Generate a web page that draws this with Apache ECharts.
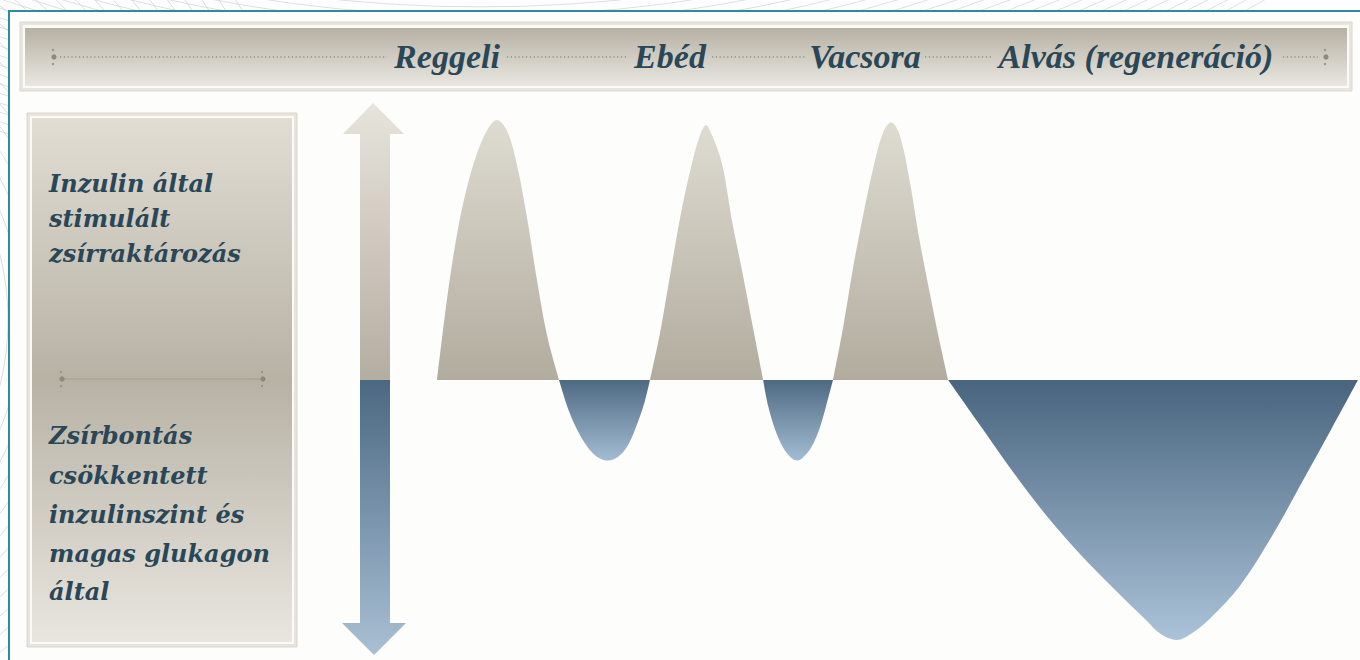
<!DOCTYPE html>
<html><head><meta charset="utf-8">
<script src="https://cdn.jsdelivr.net/npm/echarts@6/dist/echarts.min.js"></script>
<style>html,body{margin:0;padding:0;background:#fff;}#c{width:1360px;height:660px;}</style>
</head><body><div id="c"></div>
<script>
// ---- text content ----
const headerLabels = ['Reggeli', 'Ebéd', 'Vacsora', 'Alvás (regeneráció)'];
const upperText = ['Inzulin által', 'stimulált', 'zsírraktározás'];
const lowerText = ['Zsírbontás', 'csökkentett', 'inzulinszint és', 'magas glukagon', 'által'];

// ---- data: [time of day (h), relative insulin effect (-100 .. 100)] ----
const breakfastPeak = [[6.00,0],[6.26,31],[6.52,56],[6.78,74],[7.04,87],[7.30,96],[7.56,100],[7.82,96],[8.08,83],[8.35,62],[8.61,38],[8.87,17],[9.18,0]];
const morningDip    = [[9.18,0],[9.44,-12],[9.70,-20.5],[9.96,-26.5],[10.22,-30],[10.46,-31],[10.72,-29.5],[10.98,-25],[11.24,-16],[11.42,-8],[11.55,0]];
const lunchPeak     = [[11.55,0],[11.81,18],[12.07,40],[12.33,62],[12.59,80],[12.85,94],[13.01,98],[13.17,94],[13.43,83],[13.69,61],[13.95,42],[14.21,22],[14.50,0]];
const afternoonDip  = [[14.50,0],[14.63,-10],[14.81,-19],[15.02,-26],[15.20,-29.5],[15.38,-31],[15.56,-29.5],[15.75,-26],[15.96,-19],[16.14,-10],[16.32,0]];
const dinnerPeak    = [[16.32,0],[16.58,20],[16.84,43],[17.10,63],[17.36,81],[17.62,95],[17.83,99],[18.04,95],[18.30,78],[18.56,55],[18.82,35],[19.08,16],[19.32,0]];
const sleepDip      = [[19.32,0],[20.18,-18],[21.04,-36],[21.90,-52.5],[22.76,-67],[23.62,-80],[24.48,-92.4],[24.87,-97.8],[25.28,-100],[25.65,-97.6],[26.09,-92.5],[26.93,-79],[27.76,-60],[28.59,-38],[29.30,-19],[30.00,0]];

const BEIGE = ['#dedbd1', '#b2ac9e'];
const BLUE_SMALL = ['#4e6a83', '#a3bcd2'];
const BLUE_BIG = ['#48647e', '#abc3d8'];
const TAUPE = '#b4aea1';

function grad(c0, c1) {
  return new echarts.graphic.LinearGradient(0, 0, 0, 1, [{offset:0,color:c0},{offset:1,color:c1}]);
}
function area(name, data, cols) {
  return {
    name, type: 'line', data, smooth: 0.35,
    symbol: 'none', silent: true, animation: false,
    lineStyle: { width: 0, color: cols[1] },
    areaStyle: { color: grad(cols[0], cols[1]), opacity: 1 }
  };
}

// ---- decorations ----
const TEXT_COLOR = '#2a4758';
const graphics = [];
// faint guilloche-like background lines (visible outside the frame)
for (let i = 0; i < 26; i++) {
  graphics.push({ type: 'circle', silent: true, z: -20,
    shape: { cx: -260, cy: 320, r: 240 + i * 14 },
    style: { fill: 'none', stroke: '#d2d2d2', lineWidth: 0.8 } });
  graphics.push({ type: 'circle', silent: true, z: -20,
    shape: { cx: 480, cy: -1400, r: 1380 + i * 9 },
    style: { fill: 'none', stroke: '#d6d6d6', lineWidth: 0.8 } });
}
// main frame
graphics.push({ type: 'rect', silent: true, z: -10, shape: { x: 9, y: 11, width: 1400, height: 700 },
  style: { fill: '#fdfdfb', stroke: '#2a8c9c', lineWidth: 2 } });

// header bar
graphics.push({ type: 'rect', silent: true, z: -5, shape: { x: 20, y: 22, width: 1332, height: 69 },
  style: { fill: '#e8e5de', stroke: '#dcd8cf', lineWidth: 1 } });
graphics.push({ type: 'rect', silent: true, z: -5, shape: { x: 23, y: 25, width: 1326, height: 63 },
  style: { fill: '#fbfaf7' } });
graphics.push({ type: 'rect', silent: true, z: -5, shape: { x: 25, y: 28, width: 1322, height: 58 },
  style: { fill: grad('#b7b1a4', '#e9e7e0') } });

const headerCenters = [447, 670, 865, 1136];
headerLabels.forEach((t, i) => graphics.push({ type: 'text', silent: true, z: 5,
  style: { text: t, x: headerCenters[i], y: 56, align: 'center', verticalAlign: 'middle',
    font: 'italic bold 34px "Liberation Serif"', fill: TEXT_COLOR } }));
const leaders = [[60, 387], [507, 628], [712, 806], [925, 991], [1283, 1318]];
leaders.forEach(s => graphics.push({ type: 'line', silent: true, z: 4,
  shape: { x1: s[0], y1: 57, x2: s[1], y2: 57 },
  style: { stroke: '#948e80', lineWidth: 1.4, lineDash: [1.2, 2.6] } }));
function ornament(x, y) {
  graphics.push({ type: 'circle', silent: true, z: 4, shape: { cx: x, cy: y, r: 2.6 }, style: { fill: '#8f897b' } });
  graphics.push({ type: 'circle', silent: true, z: 4, shape: { cx: x - 1, cy: y - 7, r: 1.2 }, style: { fill: '#9a9486' } });
  graphics.push({ type: 'circle', silent: true, z: 4, shape: { cx: x - 1, cy: y + 7, r: 1.2 }, style: { fill: '#9a9486' } });
}
ornament(54, 57);
ornament(1326, 57);

// left panel
graphics.push({ type: 'rect', silent: true, z: -5, shape: { x: 27, y: 113, width: 270, height: 534 },
  style: { fill: '#e7e4dd', stroke: '#dad6cd', lineWidth: 1 } });
graphics.push({ type: 'rect', silent: true, z: -5, shape: { x: 30, y: 116, width: 264, height: 528 },
  style: { fill: '#fbfaf7' } });
graphics.push({ type: 'rect', silent: true, z: -5, shape: { x: 32, y: 118, width: 260, height: 524 },
  style: { fill: new echarts.graphic.LinearGradient(0, 0, 0, 1, [
    { offset: 0, color: '#e1ddd3' }, { offset: 0.5, color: '#b8b2a5' }, { offset: 1, color: '#e9e6df' }]) } });
const upperY = [183, 218, 253];
upperText.forEach((t, i) => graphics.push({ type: 'text', silent: true, z: 5,
  style: { text: t, x: 49, y: upperY[i], align: 'left', verticalAlign: 'middle',
    font: 'italic bold 24px "DejaVu Serif"', fill: TEXT_COLOR } }));
const lowerY = [435, 475, 514, 553, 591];
lowerText.forEach((t, i) => graphics.push({ type: 'text', silent: true, z: 5,
  style: { text: t, x: 49, y: lowerY[i], align: 'left', verticalAlign: 'middle',
    font: 'italic bold 24px "DejaVu Serif"', fill: TEXT_COLOR } }));
graphics.push({ type: 'line', silent: true, z: 4, shape: { x1: 62, y1: 379, x2: 262, y2: 379 },
  style: { stroke: '#a39d8f', lineWidth: 1 } });
ornament(62, 379);
ornament(263, 379);

// double arrow
graphics.push({ type: 'polygon', silent: true, z: 3,
  shape: { points: [[373,103],[404,134],[390,134],[390,380],[360,380],[360,134],[343,134]] },
  style: { fill: grad('#e7e4dc', TAUPE) } });
graphics.push({ type: 'polygon', silent: true, z: 3,
  shape: { points: [[360,380],[390,380],[390,623],[406,623],[374,655],[342,623],[360,623]] },
  style: { fill: grad('#4b6882', '#a9c0d4') } });

const option = {
  backgroundColor: '#ffffff',
  animation: false,
  grid: { left: 437, top: 120, width: 921, height: 520 },
  xAxis: { type: 'value', min: 6, max: 30, show: false },
  yAxis: { type: 'value', min: -100, max: 100, show: false },
  graphic: graphics,
  series: [
    area('Reggeli', breakfastPeak, BEIGE),
    area('Délelőtt', morningDip, BLUE_SMALL),
    area('Ebéd', lunchPeak, BEIGE),
    area('Délután', afternoonDip, BLUE_SMALL),
    area('Vacsora', dinnerPeak, BEIGE),
    area('Alvás', sleepDip, BLUE_BIG)
  ]
};
const chart = echarts.init(document.getElementById('c'), null, { renderer: 'svg' });
chart.setOption(option);
</script>
</body></html>
